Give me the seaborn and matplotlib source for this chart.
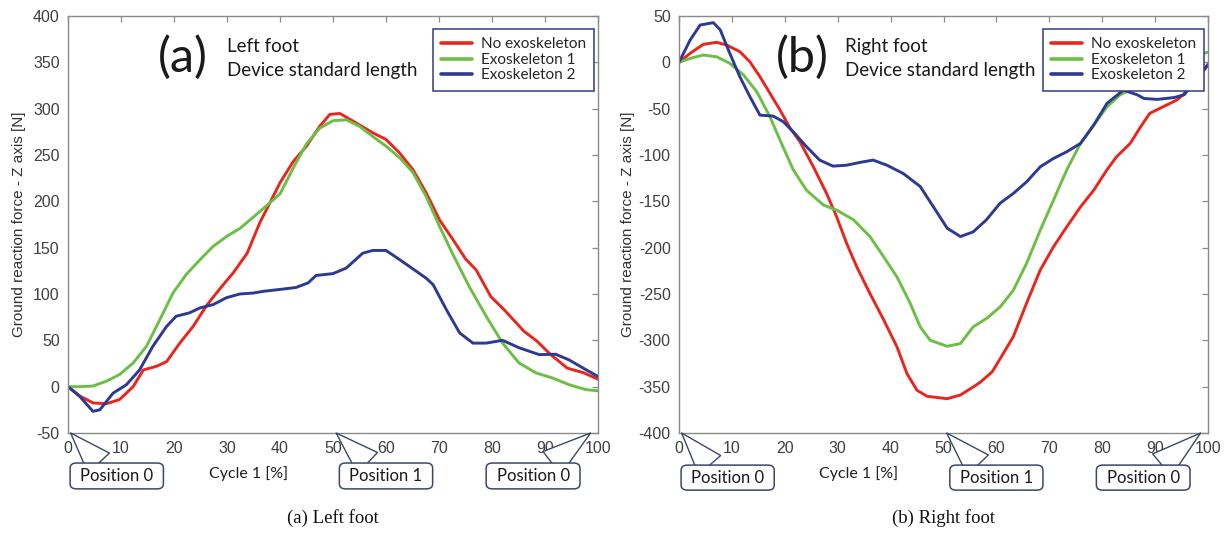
import numpy as np
import pandas as pd
import seaborn as sns
import matplotlib
matplotlib.use("Agg")
from matplotlib import pyplot as plt
from matplotlib.patches import FancyBboxPatch

# ---- data (cycle %, force N) ----
series_names = ["No exoskeleton", "Exoskeleton 1", "Exoskeleton 2"]

# (a) left foot
left_red_x = [0, 2.2, 4.7, 7.2, 9.7, 12.3, 14.2, 16.7, 18.6, 21.1, 23.6, 26.2, 28.7, 31.2, 33.8,
              36.2, 40, 42.5, 45, 47.5, 49.4, 51.3, 53.8, 57.5, 60, 62.6, 65.1, 67.6, 70.1, 72.6,
              75, 77, 79.8, 82.3, 86, 88.5, 91, 94.2, 97.3, 100]
left_red_y = [0, -10, -17.5, -18.5, -14, 0, 18, 22, 27, 47, 65, 88, 106, 123, 144,
              177, 220, 243, 259.5, 281, 293.8, 294.8, 286.5, 274, 266.8, 252, 234, 209, 180, 159,
              138, 126, 97, 83, 60, 49, 35, 20, 15, 8]
left_green_x = [0, 2.2, 4.7, 7.2, 9.7, 12.3, 14.8, 17.3, 19.8, 22.3, 24.9, 27.4, 29.9, 32.5, 36.2,
                40, 42.5, 45, 47.5, 50, 52.5, 55, 57.5, 60, 62.6, 65.1, 67.6, 70.1, 72.6, 75.7,
                78.9, 82, 85.1, 88.3, 91.4, 94.5, 97.7, 100]
left_green_y = [0, 0, 0.7, 5.8, 13, 25.6, 43.5, 72, 101, 121, 137, 151.5, 162, 171, 189,
                208, 236, 262, 279, 287, 288, 281, 270, 259.5, 247, 231, 205, 173, 143, 108,
                76, 47, 25.6, 14.8, 9.4, 2.2, -3.2, -4.5]
left_blue_x = [0, 2.2, 4.7, 6, 8.5, 11, 13.5, 16, 18.6, 20.4, 22.9, 24.9, 27.4, 29.9, 32.4, 34.9,
               37, 40.1, 43, 45.3, 46.8, 50, 52.5, 55.6, 57.5, 60, 62.6, 65.1, 67.6, 68.9, 71.4,
               73.9, 76.4, 78.9, 82, 85.1, 88.9, 92, 94.5, 97.7, 100]
left_blue_y = [0, -10.4, -26.6, -25, -7, 2, 18, 43.5, 65, 76, 79.6, 85, 88.6, 96, 100, 101,
               103, 105, 107, 112, 120, 122, 128, 144, 147, 147, 137, 127, 117, 110, 83,
               58, 47, 47, 50, 42, 34.6, 35, 29, 18.4, 11]

# (b) right foot
right_red_x = [0, 2.1, 4.6, 7.1, 9, 11.5, 13.4, 15.3, 17.2, 19.1, 21, 22.9, 25.4, 27.9, 29.8,
               31.7, 33.6, 36.1, 38.7, 41.2, 43.1, 45, 46.9, 50.7, 53.2, 55.7, 57, 59.2, 60.7,
               63.2, 65.7, 68.3, 70.8, 73.3, 75.9, 78.4, 80.9, 82.7, 85.3, 87.1, 89, 91.5,
               94.1, 95.3, 100]
right_red_y = [0, 9.7, 19.4, 21.6, 18.7, 11.5, 0.6, -15.5, -33.5, -51.5, -71, -86, -112.7, -141.5,
               -166.7, -195.5, -220.7, -249.5, -278, -307, -336, -354, -360.4, -363, -359, -350,
               -345, -334, -320, -296, -260, -224, -199, -177.5, -156, -138, -116, -102, -87.5,
               -71, -55, -48, -40.7, -35, -2]
right_green_x = [0, 2.1, 4.6, 7.1, 9.6, 12.2, 14.7, 17.2, 19.1, 21.6, 24.1, 27.3, 29.8, 33, 36.1,
                 38.7, 41.2, 43.7, 45.6, 47.5, 50.7, 53.2, 55.6, 58.1, 60.7, 63.2, 65.7, 68.3,
                 70.8, 73.3, 75.9, 78.4, 80.9, 83.4, 99.2, 100]
right_green_y = [0, 4.3, 7.9, 6, -1, -13.7, -31.7, -58.8, -84, -116, -138, -154, -159.5, -170,
                 -188, -210, -231.5, -260, -285.5, -300, -306.4, -303.5, -285.5, -276.5, -264,
                 -246, -217, -181, -148.7, -116, -87.5, -67.7, -48, -35, 9.7, 11]
right_blue_x = [0, 2.1, 4, 6.5, 7.8, 9.6, 11.5, 13.4, 15.3, 17.8, 19.7, 21.6, 24.1, 26.6, 29.1,
                31.7, 34.2, 36.7, 39.3, 42.4, 45.6, 48.1, 50.7, 53.2, 55.6, 58.1, 60.7, 63.2,
                65.7, 68.3, 70.8, 73.3, 75.9, 78.4, 80.9, 84, 86.6, 87.9, 90.4, 93.6, 95.5, 100]
right_blue_y = [0, 24, 40.3, 42.8, 35, 9.7, -15.5, -37, -57, -58, -64, -75, -91, -105.5, -112,
                -111, -108, -105.5, -111, -120, -134, -156, -179, -188, -183, -170, -152, -141.5,
                -129, -112.7, -103.7, -96.5, -87.5, -67.7, -44.3, -30, -35, -39, -40, -38, -35, -3]

x_ticks = list(range(0, 101, 10))
left_y_ticks = list(range(-50, 401, 50))
right_y_ticks = list(range(-400, 51, 50))

palette = {"No exoskeleton": "#E8261D", "Exoskeleton 1": "#6CBE45", "Exoskeleton 2": "#2C3A93"}
box_edge = "#3A4868"
legend_edge = "#2E3C82"
tick_gray = "#404040"
spine_gray = "#8A8A8A"

sns.set_style("white")
plt.rcParams["font.family"] = ["Lato", "DejaVu Sans"]


def long_frame(parts):
    frames = []
    for name, xs, ys in parts:
        frames.append(pd.DataFrame({"cycle": xs, "force": ys, "series": name}))
    return pd.concat(frames, ignore_index=True)


def draw_panel(ax, df, y_ticks, tag, foot, tag_x, text_x, ylabel_x, box_y):
    sns.lineplot(data=df, x="cycle", y="force", hue="series", hue_order=series_names,
                 palette=palette, linewidth=2.1, errorbar=None, ax=ax)
    ax.set_xlim(0, 100)
    ax.set_ylim(y_ticks[0], y_ticks[-1])
    ax.set_xticks(x_ticks)
    ax.set_yticks(y_ticks)
    ax.set_xticklabels([str(t) for t in x_ticks], family="Liberation Sans")
    ax.set_yticklabels([str(t) for t in y_ticks], family="Liberation Sans")
    ax.tick_params(direction="in", length=4, width=0.9, color=spine_gray, labelcolor=tick_gray,
                   labelsize=11.5, top=True, right=True, pad=6)
    for sp in ax.spines.values():
        sp.set_color(spine_gray)
        sp.set_linewidth(1)

    ax.set_ylabel("Ground reaction force - Z axis [N]", family="Liberation Sans",
                  fontsize=11, color="#303030")
    ax.yaxis.set_label_coords(ylabel_x, 0.5)
    ax.set_xlabel("Cycle 1 [%]", fontsize=11.5, color="#202020")
    ax.xaxis.set_label_coords(0.34, -0.08)

    handles, labels = ax.get_legend_handles_labels()
    leg = ax.legend(handles, labels, loc="upper right", bbox_to_anchor=(0.993, 0.969),
                    borderaxespad=0, fancybox=False, fontsize=11, handlelength=2.0,
                    handletextpad=0.6, labelspacing=0.1, borderpad=0.55, framealpha=1)
    leg.get_frame().set_edgecolor(legend_edge)
    leg.get_frame().set_linewidth(1.1)
    for line in leg.get_lines():
        line.set_linewidth(2.6)

    ax.text(tag_x, 0.9, tag, transform=ax.transAxes, fontsize=35, va="center", ha="left",
            color="#1a1a1a")
    ax.text(text_x, 0.913, foot, transform=ax.transAxes, fontsize=13.5, va="baseline",
            color="#1a1a1a")
    ax.text(text_x, 0.857, "Device standard length", transform=ax.transAxes, fontsize=13.5,
            va="baseline", color="#1a1a1a")

    # position callouts under the x axis
    y_low = y_ticks[0]
    callouts = [("Position 0", 0.004, 0.180, 0.058, 0.5),
                ("Position 1", 0.512, 0.688, 0.565, 50.6),
                ("Position 0", 0.789, 0.966, 0.913, 98.6)]
    top, bottom = box_y
    for label, x0, x1, base, tip in callouts:
        box = FancyBboxPatch((x0, bottom), x1 - x0, top - bottom,
                             boxstyle="round,pad=0,rounding_size=0.012",
                             transform=ax.transAxes, clip_on=False, fc="white",
                             ec=box_edge, lw=1.1, zorder=6)
        ax.add_patch(box)
        ax.annotate("", xy=(tip, y_low), xycoords="data", xytext=(base, top),
                    textcoords="axes fraction", annotation_clip=False,
                    arrowprops=dict(arrowstyle="wedge,tail_width=2.1,shrink_factor=0.5",
                                    fc="white", ec=box_edge, lw=1.0, shrinkA=0, shrinkB=0),
                    zorder=5)
        ax.text((x0 + x1) / 2, (top + bottom) / 2, label, transform=ax.transAxes,
                ha="center", va="center", fontsize=12, color="#1a1a1a", zorder=7)


left_df = long_frame([(series_names[0], left_red_x, left_red_y),
                      (series_names[1], left_green_x, left_green_y),
                      (series_names[2], left_blue_x, left_blue_y)])
right_df = long_frame([(series_names[0], right_red_x, right_red_y),
                       (series_names[1], right_green_x, right_green_y),
                       (series_names[2], right_blue_x, right_blue_y)])

fig = plt.figure(figsize=(12.28, 5.33), dpi=100)
ax1 = fig.add_axes([68 / 1228, 100 / 533, 530 / 1228, 417 / 533])
ax2 = fig.add_axes([679 / 1228, 100 / 533, 529 / 1228, 417 / 533])

draw_panel(ax1, left_df, left_y_ticks, "(a)", "Left foot", 0.17, 0.30, -0.08, (-0.072, -0.134))
draw_panel(ax2, right_df, right_y_ticks, "(b)", "Right foot", 0.184, 0.314, -0.083, (-0.077, -0.137))

fig.text(333 / 1228, 1 - 518 / 533, "(a) Left foot", family="Liberation Serif", fontsize=13.5,
         ha="center", va="center", color="#111111")
fig.text(943 / 1228, 1 - 518 / 533, "(b) Right foot", family="Liberation Serif", fontsize=13.5,
         ha="center", va="center", color="#111111")

fig.savefig("out.png", dpi=100, facecolor="white")
